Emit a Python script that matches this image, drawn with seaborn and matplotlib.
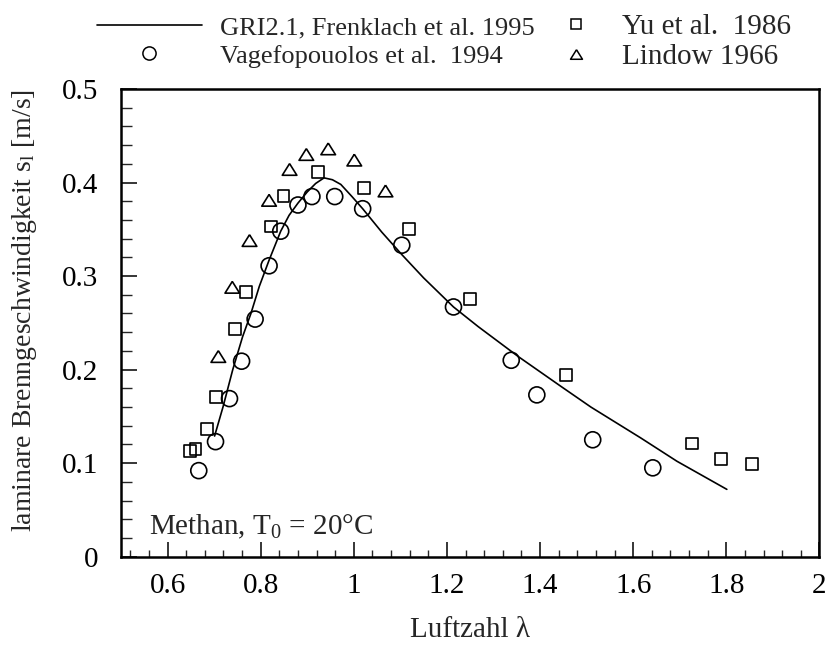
import matplotlib
matplotlib.use("Agg")
import matplotlib.pyplot as plt
from matplotlib.lines import Line2D
from matplotlib.ticker import MultipleLocator, FixedLocator, FuncFormatter
import numpy as np
import pandas as pd
import seaborn as sns

# --- data -----------------------------------------------------------------
series_labels = ["GRI2.1, Frenklach et al. 1995",
                 "Vagefopouolos et al.  1994",
                 "Yu et al.  1986",
                 "Lindow 1966"]

# GRI2.1 mechanism calculation
gri_lambda = [0.701, 0.719, 0.740, 0.761, 0.779, 0.797, 0.818, 0.843, 0.861,
              0.880, 0.900, 0.918, 0.936, 0.954, 0.972, 0.996, 1.019, 1.060,
              1.103, 1.150, 1.214, 1.267, 1.353, 1.445, 1.509, 1.616, 1.694,
              1.801]
gri_sl = [0.129, 0.160, 0.200, 0.235, 0.260, 0.289, 0.317, 0.348, 0.365,
          0.378, 0.390, 0.399, 0.405, 0.403, 0.398, 0.385, 0.372, 0.347,
          0.323, 0.298, 0.267, 0.246, 0.214, 0.182, 0.160, 0.127, 0.102,
          0.072]

# Vagefopoulos et al. 1994
vage_lambda = [0.667, 0.703, 0.733, 0.759, 0.788, 0.818, 0.843, 0.880, 0.910,
               0.959, 1.019, 1.103, 1.214, 1.338, 1.393, 1.513, 1.642]
vage_sl = [0.092, 0.123, 0.169, 0.209, 0.254, 0.311, 0.348, 0.376, 0.385,
           0.385, 0.372, 0.333, 0.267, 0.210, 0.173, 0.125, 0.095]

# Yu et al. 1986
yu_lambda = [0.649, 0.660, 0.685, 0.705, 0.745, 0.769, 0.822, 0.849, 0.924,
             1.022, 1.118, 1.249, 1.456, 1.727, 1.789, 1.855]
yu_sl = [0.113, 0.115, 0.137, 0.171, 0.243, 0.283, 0.353, 0.386, 0.411,
         0.394, 0.350, 0.276, 0.194, 0.121, 0.104, 0.099]

# Lindow 1966
lindow_lambda = [0.709, 0.739, 0.776, 0.818, 0.862, 0.898, 0.945, 1.001, 1.068]
lindow_sl = [0.214, 0.288, 0.338, 0.381, 0.414, 0.430, 0.436, 0.424, 0.391]

x_ticks = [0.6, 0.8, 1.0, 1.2, 1.4, 1.6, 1.8, 2.0]
y_ticks = [0.0, 0.1, 0.2, 0.3, 0.4, 0.5]

# --- style ----------------------------------------------------------------
sns.set_theme(style="white", rc={
    "axes.edgecolor": "black",
    "axes.linewidth": 1.8,
    "axes.facecolor": "white",
    "figure.facecolor": "white",
})
plt.rcParams["font.family"] = ["Liberation Serif", "DejaVu Serif"]
plt.rcParams["mathtext.fontset"] = "custom"
plt.rcParams["mathtext.rm"] = "Liberation Serif"
plt.rcParams["mathtext.it"] = "Liberation Serif:italic"
plt.rcParams["mathtext.bf"] = "Liberation Serif:bold"

W_PX, H_PX = 828, 645
fig = plt.figure(figsize=(W_PX / 100, H_PX / 100), dpi=100)
ax = fig.add_axes([121 / W_PX, 1 - 556.7 / H_PX,
                   (819.5 - 121) / W_PX, (556.7 - 89) / H_PX])

gri = pd.DataFrame({"lam": gri_lambda, "sl": gri_sl})
vage = pd.DataFrame({"lam": vage_lambda, "sl": vage_sl})
yu = pd.DataFrame({"lam": yu_lambda, "sl": yu_sl})
lindow = pd.DataFrame({"lam": lindow_lambda, "sl": lindow_sl})

sns.lineplot(data=gri, x="lam", y="sl", ax=ax, color="black", lw=1.2,
             estimator=None, sort=False)

tri_marker = [(0, 0.8), (-1, -0.8), (1, -0.8), (0, 0.8)]

sns.scatterplot(data=vage, x="lam", y="sl", ax=ax, marker="o", s=11.5 ** 2,
                facecolors="none", edgecolor="black", linewidth=1.2,
                zorder=3)
sns.scatterplot(data=yu, x="lam", y="sl", ax=ax, marker="s", s=8.6 ** 2,
                facecolors="none", edgecolor="black", linewidth=1.2,
                zorder=3)
sns.scatterplot(data=lindow, x="lam", y="sl", ax=ax, marker=tri_marker,
                s=10.5 ** 2, facecolors="none", edgecolor="black",
                linewidth=1.2, zorder=3)

# --- axes -----------------------------------------------------------------
ax.set_xlim(0.5, 2.0)
ax.set_ylim(0.0, 0.5)
ax.xaxis.set_major_locator(FixedLocator(x_ticks))
ax.xaxis.set_minor_locator(MultipleLocator(0.04))
ax.yaxis.set_major_locator(FixedLocator(y_ticks))
ax.yaxis.set_minor_locator(MultipleLocator(0.02))
fmt = FuncFormatter(lambda v, p: f"{v:g}")
ax.xaxis.set_major_formatter(fmt)
ax.yaxis.set_major_formatter(fmt)

ax.tick_params(axis="x", which="major", direction="in", length=10.5,
               width=1.1, pad=11.5, labelsize=21, colors="black",
               bottom=True, top=False)
ax.tick_params(axis="x", which="minor", direction="in", length=5,
               width=1.0, bottom=True, top=False)
ax.tick_params(axis="y", which="major", direction="in", length=11.5,
               width=1.1, pad=16.5, labelsize=21, colors="black",
               left=True, right=False)
ax.tick_params(axis="y", which="minor", direction="in", length=8,
               width=1.0, left=True, right=False)
for s in ax.spines.values():
    s.set_visible(True)
    s.set_color("black")
    s.set_linewidth(1.8)

ax.set_xlabel("Luftzahl λ", fontsize=21, labelpad=13)
ax.set_ylabel(r"laminare Brenngeschwindigkeit s$_\mathrm{l}$ [m/s]",
              fontsize=20)
ax.yaxis.set_label_coords(-0.117, 0.527)

ax.text(0.04, 0.048, r"Methan, T$_\mathrm{0}$ = 20°C", transform=ax.transAxes,
        fontsize=21, ha="left", va="baseline")

# --- legend (two columns above the axes) ---------------------------------
h_line = Line2D([], [], color="black", lw=1.2)
h_circ = Line2D([], [], ls="none", marker="o", ms=9.5, mfc="none",
                mec="black", mew=1.1)
h_sq = Line2D([], [], ls="none", marker="s", ms=7.2, mfc="none",
              mec="black", mew=1.1)
h_tri = Line2D([], [], ls="none", marker=tri_marker, ms=8.6, mfc="none",
               mec="black", mew=1.1)


def legend_entry(handle, label, x_px, y_px, size, hlen, hpad):
    fig.legend(handles=[handle], labels=[label], loc="center left",
               bbox_to_anchor=(x_px / W_PX, 1 - y_px / H_PX),
               bbox_transform=fig.transFigure, frameon=False,
               borderpad=0, borderaxespad=0, numpoints=1,
               handlelength=hlen, handletextpad=hpad, fontsize=size)


legend_entry(h_line, series_labels[0], 96.7, 28, 19, 3.98, 0.69)
legend_entry(h_circ, series_labels[1], 96.7, 56, 19, 3.98, 0.69)
legend_entry(h_sq, series_labels[2], 561, 27, 21, 1.0, 1.09)
legend_entry(h_tri, series_labels[3], 561, 57, 21, 1.0, 1.09)

fig.savefig("out.png", dpi=100)
